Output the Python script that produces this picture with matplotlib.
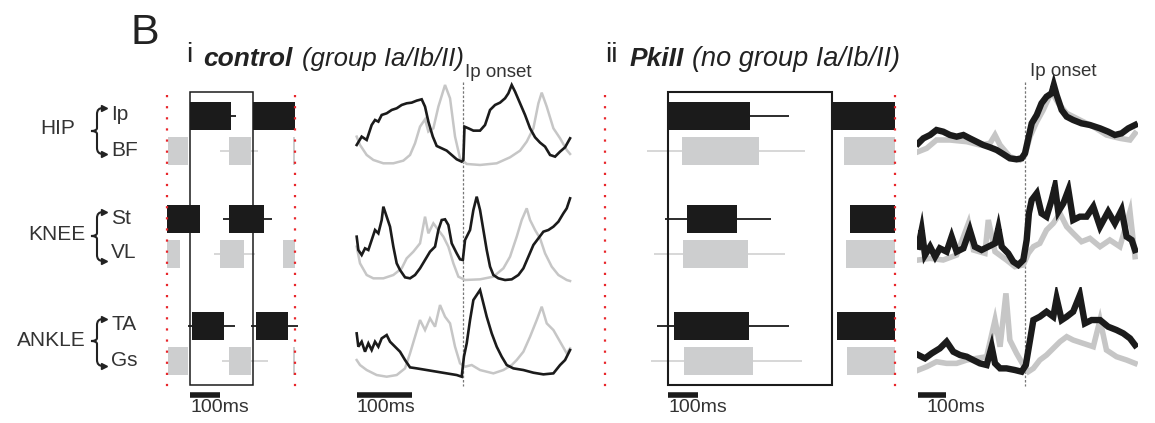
import matplotlib
matplotlib.use('Agg')
import matplotlib.pyplot as plt
from matplotlib.patches import Rectangle, PathPatch
from matplotlib.path import Path

plt.rcParams['font.family'] = ['Liberation Sans', 'DejaVu Sans']

W, H = 1155, 423
BLACK = '#1b1b1b'
GREY_BAR = '#cdcecf'
GREY_TR = '#c6c6c6'
RED = '#e8262b'

muscles = ['Ip', 'BF', 'St', 'VL', 'TA', 'Gs']
is_flexor = [True, False, True, False, True, False]

# burst timing (ms from cycle start), control (group Ia/Ib/II)
ctrl_bursts = {
    'Ip': [(0, 137), (210, 350)],
    'BF': [(-73, -7), (130, 203), (343, 350)],
    'St': [(-77, 33), (130, 247)],
    'VL': [(-77, -33), (100, 180), (310, 350)],
    'TA': [(7, 113), (220, 327)],
    'Gs': [(-73, -7), (130, 203), (343, 350)],
}
ctrl_sd = {
    'Ip': [(0, 153)],
    'BF': [(100, 227)],
    'St': [(110, 273)],
    'VL': [(80, 217)],
    'TA': [(-7, 150), (203, 360)],
    'Gs': [(107, 260)],
}
ctrl_cycle = 210
ctrl_marks = [-77, 350]

# burst timing (ms), PkiII (no group Ia/Ib/II)
pk_bursts = {
    'Ip': [(0, 273), (547, 757)],
    'BF': [(47, 303), (587, 757)],
    'St': [(63, 230), (607, 757)],
    'VL': [(50, 267), (593, 757)],
    'TA': [(20, 270), (563, 757)],
    'Gs': [(53, 283), (597, 757)],
}
pk_sd = {
    'Ip': [(0, 403)],
    'BF': [(-70, 457)],
    'St': [(-10, 343)],
    'VL': [(-47, 390)],
    'TA': [(-37, 403)],
    'Gs': [(-57, 447)],
}
pk_cycle = 547
pk_marks = [-210, 757]

# averaged rectified EMG, control (a.u.)
c_hip_t = [0, 9, 18, 27, 33, 39, 45, 54, 63, 72, 81, 90, 99, 108, 117, 123, 129, 137, 144, 153, 162, 171, 180, 189,
           192, 194, 201, 210, 222, 231, 240, 249, 258, 267, 273, 279, 285, 294, 303, 312, 321, 330, 339, 348, 357,
           366, 375, 384]
c_hip_ip = [65, 90, 80, 125, 140, 135, 155, 160, 170, 175, 185, 190, 192, 198, 202, 180, 135, 90, 62, 55, 48, 35, 22,
            15, 20, 120, 115, 108, 108, 125, 170, 185, 192, 205, 220, 245, 225, 190, 155, 115, 88, 72, 60, 35, 30, 45,
            58, 85]
c_hip_t2 = [0, 6, 18, 30, 48, 66, 84, 96, 105, 114, 123, 129, 138, 147, 159, 168, 177, 186, 198, 222, 252, 276, 294,
            306, 318, 327, 333, 342, 354, 366, 378, 384]
c_hip_bf = [90, 65, 35, 20, 10, 10, 18, 35, 70, 120, 142, 105, 115, 180, 245, 205, 90, 25, 8, 5, 10, 28, 48, 75, 115,
            190, 222, 180, 115, 85, 50, 38]

c_knee_t = [0, 3, 9, 15, 21, 27, 33, 39, 45, 48, 54, 60, 66, 72, 78, 87, 96, 105, 114, 123, 132, 141, 147, 153, 159,
            165, 171, 180, 186, 191, 195, 204, 210, 216, 222, 228, 234, 240, 246, 255, 267, 279, 291, 300, 309, 318,
            327, 336, 345, 354, 363, 372, 378, 384]
c_knee_st = [140, 100, 85, 105, 100, 130, 160, 150, 190, 230, 200, 170, 110, 60, 40, 18, 15, 25, 45, 70, 95, 110, 160,
             190, 192, 175, 120, 90, 72, 70, 130, 160, 220, 260, 220, 160, 100, 50, 25, 15, 10, 12, 25, 45, 80, 115,
             135, 155, 160, 170, 185, 210, 225, 255]
c_knee_t2 = [0, 6, 18, 30, 48, 66, 81, 90, 102, 114, 123, 129, 138, 147, 156, 165, 174, 183, 195, 222, 246, 264, 276,
             288, 297, 306, 312, 321, 330, 339, 351, 363, 378, 384]
c_knee_vl = [110, 60, 25, 15, 15, 25, 45, 75, 95, 120, 200, 150, 180, 160, 140, 110, 60, 20, 10, 12, 20, 45, 80, 140,
             190, 225, 190, 160, 135, 90, 50, 25, 10, 7]

c_ank_t = [0, 3, 9, 15, 21, 27, 33, 39, 45, 54, 60, 69, 78, 87, 96, 108, 126, 144, 162, 180, 189, 193, 198, 204, 210,
           216, 222, 228, 234, 243, 252, 261, 270, 282, 300, 318, 336, 354, 366, 375, 384]
c_ank_ta = [140, 100, 115, 85, 110, 90, 115, 100, 125, 135, 115, 100, 85, 60, 38, 35, 30, 25, 20, 15, 10, 70, 110, 180,
            240, 255, 270, 230, 190, 140, 100, 70, 45, 35, 30, 22, 17, 20, 45, 60, 90]
c_ank_t2 = [0, 6, 18, 36, 54, 72, 87, 96, 105, 114, 123, 132, 141, 150, 159, 168, 177, 186, 195, 207, 222, 246, 264,
            279, 288, 300, 312, 324, 333, 342, 354, 366, 378, 384]
c_ank_gs = [60, 45, 30, 15, 10, 15, 35, 80, 130, 180, 150, 185, 160, 225, 190, 170, 100, 50, 40, 45, 30, 20, 30, 45, 60,
            85, 130, 180, 220, 170, 150, 115, 80, 95]
c_onset = 192

# averaged rectified EMG, PkiII (a.u.)
p_hip_t = [0, 18, 42, 65, 89, 113, 137, 161, 184, 208, 232, 256, 280, 303, 327, 351, 369, 381, 393, 405, 423, 440, 458,
           476, 484, 494, 512, 530, 553, 583, 613, 649, 678, 702, 726, 750, 774]
p_hip_ip = [60, 75, 85, 100, 95, 85, 80, 85, 75, 65, 55, 48, 40, 28, 15, 12, 15, 30, 75, 120, 145, 180, 200, 210, 235,
            205, 160, 140, 130, 120, 115, 105, 95, 85, 90, 105, 115]
p_hip_t2 = [0, 30, 65, 113, 173, 220, 256, 274, 292, 327, 363, 381, 399, 423, 446, 476, 500, 530, 577, 625, 672, 720,
            756, 774]
p_hip_bf = [35, 45, 70, 70, 65, 55, 60, 85, 55, 20, 10, 25, 80, 125, 160, 215, 180, 150, 130, 110, 85, 75, 70, 90]

p_knee_t = [0, 12, 24, 42, 60, 77, 101, 119, 137, 161, 184, 202, 226, 250, 274, 286, 298, 321, 339, 357, 375, 387, 395,
            405, 423, 440, 458, 476, 488, 500, 518, 536, 553, 577, 601, 625, 649, 678, 702, 726, 744, 762, 774]
p_knee_st = [80, 130, 55, 80, 50, 75, 65, 110, 65, 75, 130, 80, 70, 80, 90, 135, 80, 60, 35, 25, 40, 100, 180, 220, 240,
             180, 170, 220, 260, 185, 210, 250, 160, 170, 170, 200, 140, 185, 150, 190, 110, 100, 70]
p_knee_t2 = [0, 42, 89, 137, 179, 197, 238, 250, 274, 315, 345, 375, 393, 411, 434, 458, 482, 506, 530, 553, 583, 613,
             649, 684, 720, 756, 774]
p_knee_vl = [40, 45, 40, 55, 150, 70, 60, 160, 65, 40, 20, 25, 60, 80, 90, 130, 150, 180, 140, 120, 95, 105, 80, 100,
             80, 185, 50]

p_ank_t = [0, 24, 48, 77, 101, 125, 149, 173, 196, 220, 244, 262, 274, 292, 315, 345, 369, 384, 399, 411, 434, 458, 482,
           494, 512, 530, 553, 577, 595, 619, 649, 678, 708, 732, 756, 774]
p_ank_ta = [75, 65, 80, 95, 115, 85, 75, 70, 60, 50, 45, 100, 50, 35, 35, 30, 25, 45, 120, 180, 190, 205, 190, 245,
            180, 190, 205, 255, 170, 180, 180, 160, 150, 140, 125, 105]
p_ank_t2 = [0, 30, 65, 101, 137, 173, 208, 244, 274, 292, 313, 327, 351, 375, 393, 411, 434, 458, 482, 506, 530, 553,
            589, 625, 649, 672, 708, 744, 774]
p_ank_gs = [30, 40, 55, 50, 50, 60, 65, 70, 180, 100, 260, 120, 80, 45, 25, 35, 60, 75, 95, 115, 130, 120, 110, 100,
            180, 90, 70, 60, 50]
p_onset = 381


fig = plt.figure(figsize=(W / 100, H / 100), dpi=100)


def px_axes(l, t, r, b):
    ax = fig.add_axes([l / W, 1 - b / H, (r - l) / W, (b - t) / H])
    ax.axis('off')
    return ax


# layout (pixels)
row_y = {'Ip': 116, 'BF': 151, 'St': 219, 'VL': 254, 'TA': 326, 'Gs': 361}
bar_h = 28


def bar_panel(l, r, xlim, bursts, sd, cycle, marks, box_lw):
    ax = px_axes(l, 85, r, 415)
    ax.set_xlim(*xlim)
    ax.set_ylim(415, 85)
    for m, flex in zip(muscles, is_flexor):
        col = BLACK if flex else GREY_BAR
        for lo, hi in sd[m]:
            ax.hlines(row_y[m], lo, hi, color=BLACK if flex else '#d4d4d4', lw=1.3, zorder=1)
        for s, e in bursts[m]:
            ax.barh(row_y[m], e - s, left=s, height=bar_h, color=col, zorder=2)
    ax.add_patch(Rectangle((0, 92), cycle, 293, fill=False, ec=BLACK, lw=box_lw, zorder=3))
    for mk in marks:
        ax.vlines(mk, 95, 387, color=RED, lw=1.6, linestyles=(0, (1, 4)), zorder=4)
    ax.hlines(394.5, 0, 100, color=BLACK, lw=4, zorder=3)
    return ax


bar_panel(160, 304, (-100, 380), ctrl_bursts, ctrl_sd, ctrl_cycle, ctrl_marks, 1.1)
bar_panel(599, 902, (-230, 780), pk_bursts, pk_sd, pk_cycle, pk_marks, 1.5)


def trace_panel(l, r, xlim, rows, onset, lw_b, lw_g):
    col = px_axes(l, 60, r, 415)
    col.set_xlim(*xlim)
    col.set_ylim(415, 60)
    col.vlines(onset, 82, 386, color='#777777', lw=0.9, linestyles=(0, (2, 1.5)))
    col.hlines(394.5, 0, 100, color=BLACK, lw=4)
    for (t, b), (tb, yb, tg, yg) in rows:
        ax = px_axes(l, t, r, b)
        ax.set_xlim(*xlim)
        ax.set_ylim(-20, 280)
        ax.plot(tg, yg, color=GREY_TR, lw=lw_g, solid_joinstyle='miter')
        ax.plot(tb, yb, color=BLACK, lw=lw_b, solid_joinstyle='miter')


trace_panel(353.9, 573.4, (-5, 390), [
    ((73.3, 173.3), (c_hip_t, c_hip_ip, c_hip_t2, c_hip_bf)),
    ((190, 290), (c_knee_t, c_knee_st, c_knee_t2, c_knee_vl)),
    ((286.7, 386.7), (c_ank_t, c_ank_ta, c_ank_t2, c_ank_gs)),
], c_onset, 1.9, 1.8)

trace_panel(916.9, 1138.1, (-5, 785), [
    ((70, 170), (p_hip_t, p_hip_ip, p_hip_t2, p_hip_bf)),
    ((180, 280), (p_knee_t, p_knee_st, p_knee_t2, p_knee_vl)),
    ((286.7, 386.7), (p_ank_t, p_ank_ta, p_ank_t2, p_ank_gs)),
], p_onset, 4.6, 4.0)

# text and braces
ov = px_axes(0, 0, W, H)
ov.set_xlim(0, W)
ov.set_ylim(H, 0)

ov.text(131, 44, 'B', fontsize=31, va='baseline', color='#222222')
ov.text(186, 62, 'i', fontsize=20, va='baseline', color='#222222')
ov.text(203, 66, 'control', fontsize=19, fontweight='bold', fontstyle='italic', va='baseline', color='#222222')
ov.text(302, 66, '(group Ia/Ib/II)', fontsize=18.5, fontstyle='italic', va='baseline', color='#222222')
ov.text(605, 62, 'ii', fontsize=20, va='baseline', color='#222222')
ov.text(630, 66, 'PkiII', fontsize=19, fontweight='bold', fontstyle='italic', va='baseline', color='#222222')
ov.text(692, 66, '(no group Ia/Ib/II)', fontsize=19.5, fontstyle='italic', va='baseline', color='#222222')
ov.text(465, 77, 'Ip onset', fontsize=13.5, va='baseline', color='#333333')
ov.text(1030, 76, 'Ip onset', fontsize=13.5, va='baseline', color='#333333')

for x in [190, 356, 668, 926]:
    ov.text(x, 399, '100ms', fontsize=14, va='top', color='#333333')

for name, xr, yc in [('HIP', 75, 128), ('KNEE', 85, 235), ('ANKLE', 86, 341)]:
    ov.text(xr, yc, name, fontsize=15, ha='right', va='center', color='#333333')
for m in muscles:
    ov.text(111, row_y[m] - 1, m, fontsize=15, ha='left', va='center', color='#333333')


def brace(x, yt, yb, ym):
    verts = [(x + 7, yt), (x + 1, yt), (x + 1, yt + 6),
             (x + 1, ym - 3), (x + 1, ym), (x - 5, ym),
             (x + 1, ym), (x + 1, ym + 3),
             (x + 1, yb - 6), (x + 1, yb), (x + 7, yb)]
    codes = [Path.MOVETO, Path.CURVE3, Path.CURVE3,
             Path.LINETO, Path.CURVE3, Path.CURVE3,
             Path.CURVE3, Path.CURVE3,
             Path.LINETO, Path.CURVE3, Path.CURVE3]
    ov.add_patch(PathPatch(Path(verts, codes), fill=False, ec='#222222', lw=1.5))
    ov.plot([x + 8, x + 8], [yt, yb], ls='none', marker='>', ms=4, color='#222222')


brace(96, 108, 154, 131)
brace(96, 212, 261, 236)
brace(96, 319, 366, 341)

plt.savefig('out.png', dpi=100)
